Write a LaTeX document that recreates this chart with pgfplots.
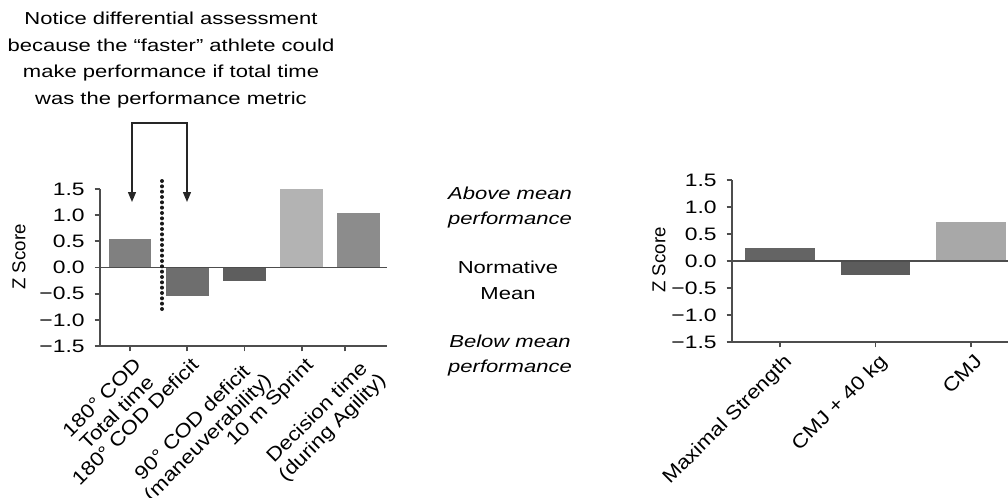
\documentclass[border=0pt]{standalone}
\usepackage{fontspec}
\setmainfont{Liberation Sans}
\newfontfamily\wide{Liberation Sans}[FakeStretch=1.27]
\newfontfamily\midfont{Liberation Sans}[FakeStretch=1.15]
\usepackage{pgfplots}
\pgfplotsset{compat=1.18}
\usetikzlibrary{arrows.meta}
\definecolor{axg}{HTML}{4D4D4D}
\definecolor{cA}{HTML}{808080}
\definecolor{cB}{HTML}{6E6E6E}
\definecolor{cC}{HTML}{5E5E5E}
\definecolor{cD}{HTML}{B3B3B3}
\definecolor{cE}{HTML}{8C8C8C}
\definecolor{rA}{HTML}{646464}
\definecolor{rB}{HTML}{5C5C5C}
\definecolor{rC}{HTML}{A8A8A8}
\pgfplotsset{
  zaxis/.style={
    scale only axis,
    axis x line*=bottom, axis y line*=left,
    ymin=-1.5, ymax=1.5,
    ytick={-1.5,-1,-0.5,0,0.5,1,1.5},
    yticklabels={−1.5,−1.0,−0.5,0.0,0.5,1.0,1.5},
    tick align=outside, major tick length=4pt, minor tick length=4pt,
    axis line style={axg, line width=1.3pt},
    tick style={axg, line width=1.3pt},
    ybar, bar shift=0pt,
    yticklabel style={font=\wide\fontsize{13.5}{15}\selectfont, xshift=-4pt},
    xticklabel style={xshift=2pt, yshift=1pt, font=\midfont\fontsize{14.5}{16}\selectfont, rotate=45, anchor=north east, align=center},
    clip=false,
    anchor=south west,
  }
}
\begin{document}
\begin{tikzpicture}
\path[use as bounding box] (0pt,0pt) rectangle (756pt,-372.75pt);

\begin{axis}[zaxis,
  at={(75pt,-259.5pt)},
  width=215.25pt, height=117.75pt,
  xmin=-0.524, xmax=4.49,
  bar width=0.75,
  xtick={0,1,2,3,4},
  xticklabels={{180° COD\\Total time},{180° COD Deficit},{90° COD deficit\\(maneuverability)},{10 m Sprint},{Decision time\\(during Agility)}},
  every major x tick/.append style={draw=none},
  minor xtick={0,1,2,3,3.75},
  every minor x tick/.append style={draw=axg, line width=1.3pt},
]
\addplot[fill=cA, draw=none] coordinates {(0,0.55)};
\addplot[fill=cB, draw=none] coordinates {(1,-0.55)};
\addplot[fill=cC, draw=none] coordinates {(2,-0.25)};
\addplot[fill=cD, draw=none] coordinates {(3,1.5)};
\addplot[fill=cE, draw=none] coordinates {(4,1.05)};
\draw[axg, line width=1.3pt] (axis cs:-0.524,0) -- (axis cs:4.49,0);
\end{axis}

\begin{axis}[zaxis,
  at={(549pt,-256.5pt)},
  width=207pt, height=121.5pt,
  xmin=-0.503, xmax=2.39,
  bar width=0.73,
  xtick={0,1,2},
  xticklabels={Maximal Strength,CMJ + 40 kg,CMJ},
]
\addplot[fill=rA, draw=none] coordinates {(0,0.25)};
\addplot[fill=rB, draw=none] coordinates {(1,-0.25)};
\addplot[fill=rC, draw=none] coordinates {(2,0.72)};
\draw[axg, line width=1.3pt] (axis cs:-0.503,0) -- (axis cs:2.39,0);
\end{axis}

\begin{scope}[x=0.75pt,y=-0.75pt]
\node[font=\fontsize{14}{16}\selectfont, rotate=90, inner sep=0pt] at (19,257) {Z Score};
\node[font=\fontsize{14}{16}\selectfont, rotate=90, inner sep=0pt] at (659,260) {Z Score};
\node[font=\wide\fontsize{13}{20}\selectfont, align=center, inner sep=0pt] at (171,60)
  {Notice differential assessment\\because the “faster” athlete could\\make performance if total time\\was the performance metric};
\draw[black!85, line width=1pt, {Triangle[length=7.5pt,width=6pt]}-{Triangle[length=7.5pt,width=6pt]}]
  (132,202) -- (132,123) -- (187,123) -- (187,202);
\draw[black!90, line width=3pt, line cap=round, dash pattern=on 0pt off 4pt] (162,181) -- (162,310);
\node[font=\wide\itshape\fontsize{13}{18.75}\selectfont, align=center, inner sep=0pt] at (510,207.5) {Above mean\\performance};
\node[font=\wide\fontsize{13}{19.5}\selectfont, align=center, inner sep=0pt] at (508,280) {Normative\\Mean};
\node[font=\wide\itshape\fontsize{13}{18.75}\selectfont, align=center, inner sep=0pt] at (510,355.5) {Below mean\\performance};
\end{scope}
\end{tikzpicture}
\end{document}
